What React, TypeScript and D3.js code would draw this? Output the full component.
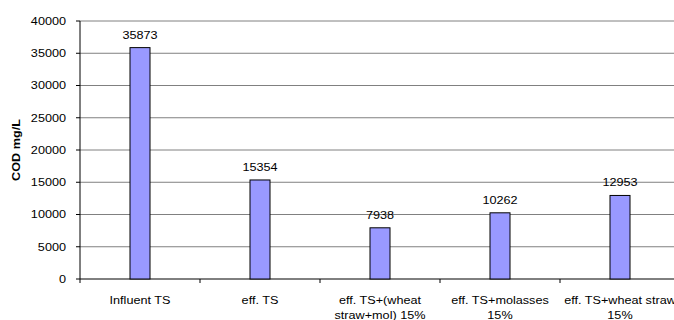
import React from "react";
import * as d3 from "d3";

const categories: string[][] = [
  ["Influent TS"],
  ["eff. TS"],
  ["eff. TS+(wheat", "straw+mol) 15%"],
  ["eff. TS+molasses", "15%"],
  ["eff. TS+wheat straw", "15%"],
];
const values: number[] = [35873, 15354, 7938, 10262, 12953];
const yTicks: number[] = [0, 5000, 10000, 15000, 20000, 25000, 30000, 35000, 40000];

const W = 674;
const H = 320;
const left = 80;
const right = 680;
const top = 21;
const bottom = 279;
const SX = 1.15;

function T(props: {
  x: number;
  y: number;
  anchor?: "start" | "middle" | "end";
  rotate?: number;
  bold?: boolean;
  dy?: string;
  children: React.ReactNode;
}) {
  return (
    <text
      transform={`translate(${props.x},${props.y}) rotate(${props.rotate ?? 0}) scale(${SX},1)`}
      textAnchor={props.anchor ?? "middle"}
      dy={props.dy}
      fontSize={11}
      fontWeight={props.bold ? "bold" : "normal"}
      fill="#000"
    >
      {props.children}
    </text>
  );
}

export default function App() {
  const x = d3
    .scaleBand<number>()
    .domain(values.map((_, i) => i))
    .range([left, right]);
  const y = d3.scaleLinear().domain([0, 40000]).range([bottom, top]);
  const barW = 20;
  const font = "'Liberation Sans', Arial, sans-serif";

  return (
    <svg
      width={W}
      height={H}
      style={{ position: "absolute", left: 0, top: 0, background: "#fff" }}
      fontFamily={font}
    >
      {yTicks.map((t) => (
        <g key={t}>
          {t > 0 && (
            <line x1={left} x2={W} y1={y(t)} y2={y(t)} stroke="#808080" strokeWidth={1} />
          )}
          <line x1={left - 4} x2={left} y1={y(t)} y2={y(t)} stroke="#000" />
          <T x={66} y={y(t)} anchor="end" dy="0.35em">
            {t}
          </T>
        </g>
      ))}
      <line x1={left} x2={left} y1={top} y2={bottom} stroke="#000" />
      <line x1={left} x2={W} y1={bottom} y2={bottom} stroke="#000" />
      {values.map((_, i) => (
        <line
          key={"xt" + i}
          x1={x(i)!}
          x2={x(i)!}
          y1={bottom}
          y2={bottom + 4}
          stroke="#000"
        />
      ))}
      {values.map((v, i) => {
        const cx = x(i)! + x.bandwidth() / 2;
        return (
          <g key={"b" + i}>
            <rect
              x={cx - barW / 2}
              y={y(v)}
              width={barW}
              height={bottom - y(v)}
              fill="#9999FF"
              stroke="#000"
              strokeWidth={1}
            />
            <T x={cx} y={y(v) - 9}>
              {v}
            </T>
            {categories[i].map((line, j) => (
              <T key={j} x={cx} y={304 + j * 15}>
                {line}
              </T>
            ))}
          </g>
        );
      })}
      <T x={20} y={(top + bottom) / 2} rotate={-90} bold>
        COD mg/L
      </T>
    </svg>
  );
}
